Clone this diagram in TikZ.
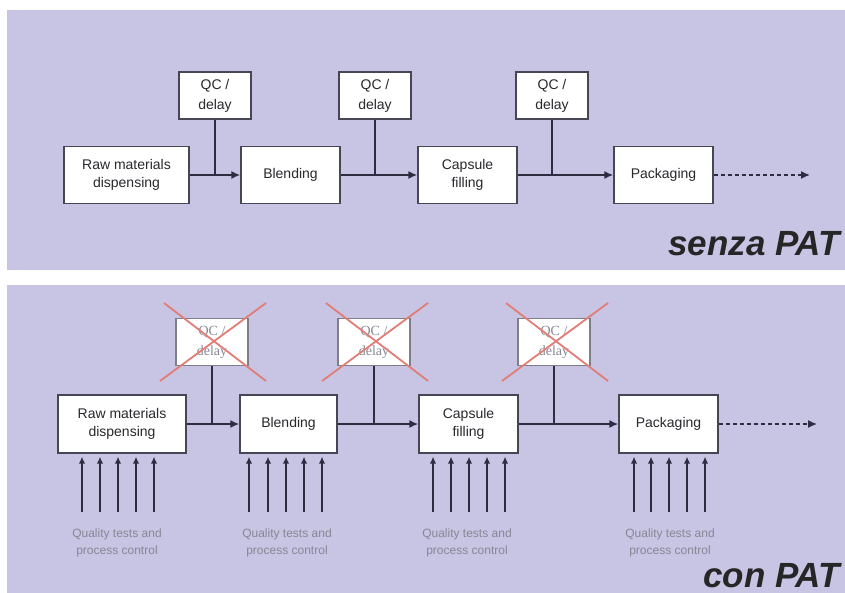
\documentclass[tikz,border=0pt]{standalone}
\usepackage{fontspec}
\setmainfont{Liberation Sans}
\newfontfamily\qcserif{Liberation Serif}
\usetikzlibrary{arrows.meta}
\definecolor{panel}{RGB}{200,196,228}
\definecolor{boxline}{RGB}{70,70,85}
\definecolor{txt}{RGB}{40,40,45}
\definecolor{crossred}{RGB}{226,125,118}
\definecolor{faint}{RGB}{135,135,148}
\definecolor{linec}{RGB}{45,45,65}
\begin{document}
\begin{tikzpicture}[x=1pt,y=-1pt,
 procbox/.style={draw=boxline,fill=white,line width=1.3pt,align=center,font=\fontsize{14}{18}\selectfont,text=txt,inner sep=0pt,minimum height=57pt},
 qcbox/.style={draw=boxline,fill=white,line width=1.3pt,align=center,font=\fontsize{14}{20}\selectfont,text=txt,inner sep=0pt,minimum width=72pt,minimum height=47pt},
 qcgone/.style={qcbox,draw=boxline!70,text=faint,font=\qcserif\fontsize{14}{20}\selectfont},
 flow/.style={draw=linec,line width=2pt,-{Latex[length=9pt,width=8pt]}},
 stem/.style={draw=linec,line width=1.4pt},
 dflow/.style={draw=linec,line width=1.5pt,dash pattern=on 4pt off 3pt,-{Latex[length=9pt,width=8pt]}},
 upar/.style={draw=linec,line width=1.6pt,-{Latex[length=7pt,width=6.5pt]},shorten >=3pt},
 cross/.style={draw=crossred,line width=1.8pt},
 qlabel/.style={align=center,font=\fontsize{12}{17}\selectfont,text=faint,inner sep=0pt},
 ptitle/.style={font=\fontsize{35}{40}\selectfont\bfseries\itshape,text=black!85,anchor=base west,inner sep=0pt}]
\useasboundingbox (0,0) rectangle (845,593);
\clip (0,0) rectangle (845,593);
\fill[panel] (7,10) rectangle (845,270);
\fill[panel] (7,285) rectangle (845,593);

% ---------- top panel: senza PAT ----------
\node[procbox,minimum width=125pt] (ra) at (126.5,175) {Raw materials\\dispensing};
\node[procbox,minimum width=99pt] (ba) at (290.5,175) {Blending};
\node[procbox,minimum width=99pt] (ca) at (467.5,175) {Capsule\\filling};
\node[procbox,minimum width=99pt] (pa) at (663.5,175) {Packaging};
\node[qcbox] (qa1) at (215,95.5) {QC /\\delay};
\node[qcbox] (qa2) at (375,95.5) {QC /\\delay};
\node[qcbox] (qa3) at (552,95.5) {QC /\\delay};
\coordinate (ea) at (810,175);

\draw[flow] (ra.east) -- (ba.west);
\draw[flow] (ba.east) -- (ca.west);
\draw[flow] (ca.east) -- (pa.west);
\draw[dflow] (pa.east) -- (ea);
\draw[stem] (qa1.south) -- (qa1.south |- ra.east);
\draw[stem] (qa2.south) -- (qa2.south |- ba.east);
\draw[stem] (qa3.south) -- (qa3.south |- ca.east);

\node[ptitle] (ta) at (668,256) {senza PAT};

% ---------- bottom panel: con PAT ----------
\node[procbox,minimum width=128pt,minimum height=58pt] (rb) at (122,424) {Raw materials\\dispensing};
\node[procbox,minimum width=97pt,minimum height=58pt] (bb) at (288.5,424) {Blending};
\node[procbox,minimum width=99pt,minimum height=58pt] (cb) at (468.5,424) {Capsule\\filling};
\node[procbox,minimum width=99pt,minimum height=58pt] (pb) at (668.5,424) {Packaging};
\node[qcgone] (qb1) at (212,342) {QC /\\delay};
\node[qcgone] (qb2) at (374,342) {QC /\\delay};
\node[qcgone] (qb3) at (554,342) {QC /\\delay};
\coordinate (eb) at (817,424);

\draw[flow] (rb.east) -- (bb.west);
\draw[flow] (bb.east) -- (cb.west);
\draw[flow] (cb.east) -- (pb.west);
\draw[dflow] (pb.east) -- (eb);
\draw[stem] (qb1.south) -- (qb1.south |- rb.east);
\draw[stem] (qb2.south) -- (qb2.south |- bb.east);
\draw[stem] (qb3.south) -- (qb3.south |- cb.east);

\foreach \q in {qb1,qb2,qb3}{
  \draw[cross] ([shift={(-48,-39)}]\q.center) -- ([shift={(54,39)}]\q.center);
  \draw[cross] ([shift={(54,-39)}]\q.center) -- ([shift={(-52,39)}]\q.center);
}

\foreach \x in {82,100,118,136,154}{\draw[upar] (\x,512) -- (\x,512 |- rb.south);}
\foreach \x in {249,268,286,304,322}{\draw[upar] (\x,512) -- (\x,512 |- bb.south);}
\foreach \x in {433,451,469,487,505}{\draw[upar] (\x,512) -- (\x,512 |- cb.south);}
\foreach \x in {634,651,669,687,705}{\draw[upar] (\x,512) -- (\x,512 |- pb.south);}

\node[qlabel] (l1) at (117,543) {Quality tests and\\process control};
\node[qlabel] (l2) at (287,543) {Quality tests and\\process control};
\node[qlabel] (l3) at (467,543) {Quality tests and\\process control};
\node[qlabel] (l4) at (670,543) {Quality tests and\\process control};

\node[ptitle] (tb) at (703,587) {con PAT};
\end{tikzpicture}
\end{document}
